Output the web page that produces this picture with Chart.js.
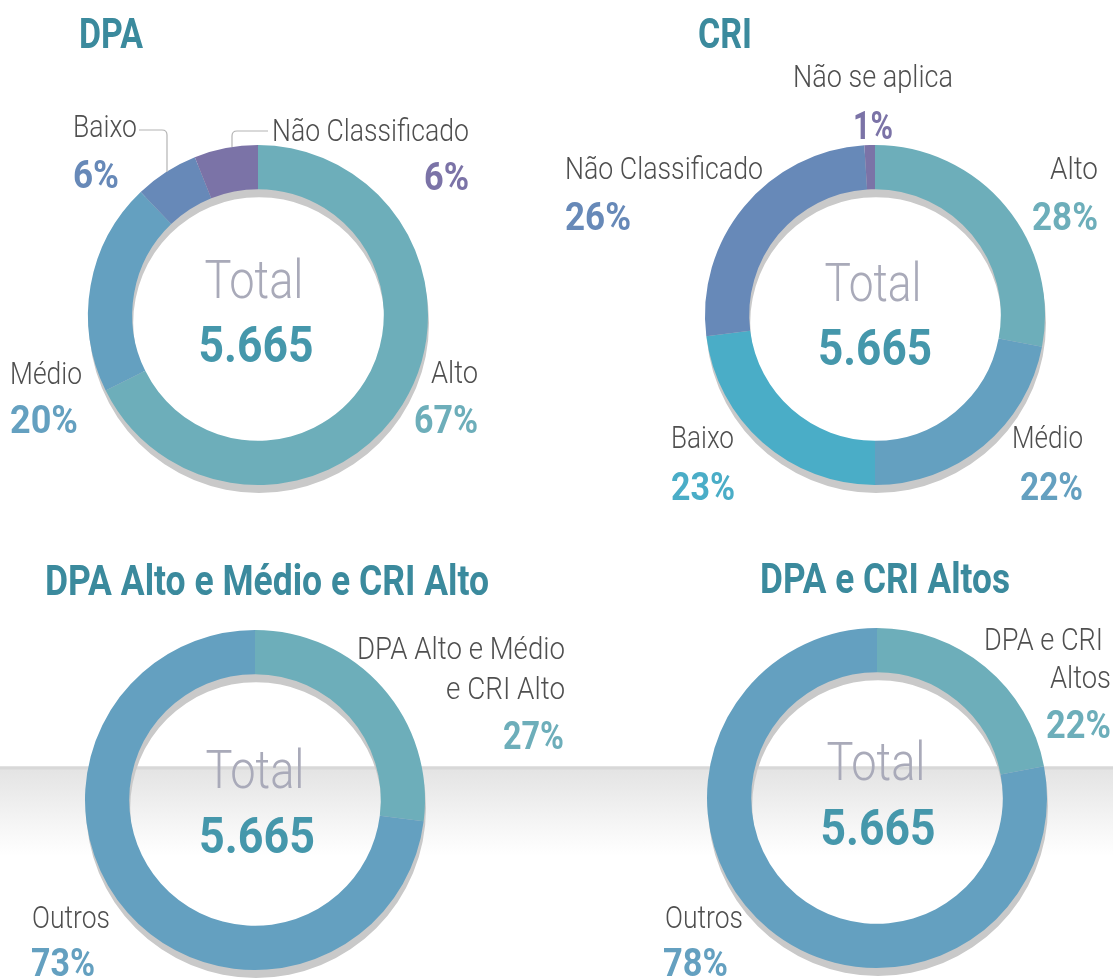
<!DOCTYPE html>
<html>
<head>
<meta charset="utf-8">
<script src="https://cdn.jsdelivr.net/npm/chart.js@4.4.1/dist/chart.umd.min.js"></script>
<style>
  html, body { margin:0; padding:0; background:#ffffff; }
  body { width:1113px; height:979px; position:relative; overflow:hidden; }
  #band { position:absolute; left:0; top:766px; width:1113px; height:92px;
    background: linear-gradient(to bottom, #ececec 0px, #d8d8d8 1px, #d8d8d8 3px, #e4e4e4 4px, #e9e9e9 20px, #f6f6f6 60px, #ffffff 90px); }
  canvas.donut { position:absolute; }
  #overlay { position:absolute; left:0; top:0; pointer-events:none; }
  .title { font-family:Roboto,"DejaVu Sans Condensed",sans-serif; font-weight:700; font-size:42px; fill:#3b8a9d; }
  .lab { font-family:Roboto,"DejaVu Sans Condensed",sans-serif; font-weight:300; font-size:31px; fill:#4f4f4f; }
  .pct { font-family:Roboto,"DejaVu Sans Condensed",sans-serif; font-weight:700; font-size:39px; }
  .tot { font-family:Roboto,"DejaVu Sans Condensed",sans-serif; font-weight:300; font-size:53px; fill:#a9aab9; }
  .num { font-family:Roboto,"DejaVu Sans Condensed",sans-serif; font-weight:700; font-size:50px; fill:#4597ab; }
</style>
</head>
<body>
<div id="band"></div>
<canvas id="c1" class="donut" width="360" height="360" style="left:78px;top:135px"></canvas>
<canvas id="c2" class="donut" width="360" height="360" style="left:695px;top:135px"></canvas>
<canvas id="c3" class="donut" width="360" height="360" style="left:75px;top:620px"></canvas>
<canvas id="c4" class="donut" width="360" height="360" style="left:697px;top:618px"></canvas>
<svg id="overlay" width="1113" height="979" xmlns="http://www.w3.org/2000/svg"></svg>
<script>
// ---- data ----
const dpaTitle = 'DPA';
const dpaLabels = ['Alto', 'Médio', 'Baixo', 'Não Classificado'];
const dpaValues = [67, 20, 6, 6];
const dpaColors = ['#6daeba', '#64a0c0', '#6789b8', '#7b73a7'];

const criTitle = 'CRI';
const criLabels = ['Alto', 'Médio', 'Baixo', 'Não Classificado', 'Não se aplica'];
const criValues = [28, 22, 23, 26, 1];
const criColors = ['#6daeba', '#64a0c0', '#4aadc7', '#6789b8', '#7b73a7'];

const combo1Title = 'DPA Alto e Médio e CRI Alto';
const combo1Labels = ['DPA Alto e Médio e CRI Alto', 'Outros'];
const combo1Values = [27, 73];

const combo2Title = 'DPA e CRI Altos';
const combo2Labels = ['DPA e CRI Altos', 'Outros'];
const combo2Values = [22, 78];
const comboColors = ['#6daeba', '#64a0c0'];

const totalLabel = 'Total';
const totalValue = '5.665';

// ---- charts ----
const shadowPlugin = {
  id: 'ringShadow',
  beforeDatasetsDraw(chart) {
    const arc = chart.getDatasetMeta(0).data[0];
    if (!arc) return;
    const { x, y, outerRadius, innerRadius } = arc.getProps(['x','y','outerRadius','innerRadius'], true);
    const ctx = chart.ctx;
    const dx = 1, dy = 8;
    ctx.save();
    ctx.fillStyle = '#c9c9c9';
    ctx.beginPath();
    ctx.arc(x + dx, y + dy, outerRadius, 0, Math.PI * 2, false);
    ctx.moveTo(x + dx + innerRadius, y + dy);
    ctx.arc(x + dx, y + dy, innerRadius, 0, Math.PI * 2, true);
    ctx.fill();
    ctx.restore();
  }
};

function makeDonut(id, labels, values, colors) {
  return new Chart(document.getElementById(id), {
    type: 'doughnut',
    data: { labels, datasets: [{ data: values, backgroundColor: colors, borderWidth: 0, hoverOffset: 0 }] },
    options: {
      responsive: false, animation: false, events: [],
      cutout: '74%',
      layout: { padding: 10 },
      plugins: { legend: { display: false }, tooltip: { enabled: false } }
    },
    plugins: [shadowPlugin]
  });
}
makeDonut('c1', dpaLabels, dpaValues, dpaColors);
makeDonut('c2', criLabels, criValues, criColors);
makeDonut('c3', combo1Labels, combo1Values, comboColors);
makeDonut('c4', combo2Labels, combo2Values, comboColors);

// ---- text overlay ----
const svg = document.getElementById('overlay');
const NS = 'http://www.w3.org/2000/svg';
function txt(str, x, y, cls, anchor, w, color) {
  const t = document.createElementNS(NS, 'text');
  t.setAttribute('x', x); t.setAttribute('y', y);
  t.setAttribute('class', cls);
  t.setAttribute('text-anchor', anchor || 'start');
  if (w) { t.setAttribute('textLength', w); t.setAttribute('lengthAdjust', 'spacingAndGlyphs'); }
  if (color) t.setAttribute('fill', color);
  t.textContent = str;
  svg.appendChild(t);
}
function path(d) {
  const p = document.createElementNS(NS, 'path');
  p.setAttribute('d', d); p.setAttribute('fill', 'none');
  p.setAttribute('stroke', '#b4b4b4'); p.setAttribute('stroke-width', '1.2');
  svg.appendChild(p);
}
const pct = v => v + '%';

// titles
txt(dpaTitle, 79, 48, 'title', 'start', 64);
txt(criTitle, 698, 48, 'title', 'start', 54);
txt(combo1Title, 45, 595, 'title', 'start', 444);
txt(combo2Title, 760, 593, 'title', 'start', 250);

// center totals
txt(totalLabel, 254, 298, 'tot', 'middle', 99); txt(totalValue, 256, 362, 'num', 'middle', 115);
txt(totalLabel, 873, 301, 'tot', 'middle', 97); txt(totalValue, 875, 365, 'num', 'middle', 114);
txt(totalLabel, 255, 788, 'tot', 'middle', 99); txt(totalValue, 257, 853, 'num', 'middle', 116);
txt(totalLabel, 876, 780, 'tot', 'middle', 99); txt(totalValue, 878, 845, 'num', 'middle', 115);

// DPA labels
txt(dpaLabels[2], 73, 137, 'lab', 'start', 64);   txt(pct(dpaValues[2]), 73, 188, 'pct', 'start', 46, dpaColors[2]);
txt(dpaLabels[3], 272, 141, 'lab', 'start', 197); txt(pct(dpaValues[3]), 469, 190, 'pct', 'end', 45, dpaColors[3]);
txt(dpaLabels[1], 10, 384, 'lab', 'start', 72);   txt(pct(dpaValues[1]), 10, 433, 'pct', 'start', 68, dpaColors[1]);
txt(dpaLabels[0], 478, 383, 'lab', 'end', 47);    txt(pct(dpaValues[0]), 478, 433, 'pct', 'end', 64, dpaColors[0]);
path('M 139 130 H 162 Q 167 130 167 135 V 172');
path('M 268 131 H 237 Q 232 131 232 136 V 147');

// CRI labels
txt(criLabels[4], 873, 87, 'lab', 'middle', 160);  txt(pct(criValues[4]), 873, 139, 'pct', 'middle', 40, criColors[4]);
txt(criLabels[3], 565, 179, 'lab', 'start', 198);  txt(pct(criValues[3]), 565, 230, 'pct', 'start', 66, criColors[3]);
txt(criLabels[0], 1098, 179, 'lab', 'end', 48);    txt(pct(criValues[0]), 1098, 230, 'pct', 'end', 66, criColors[0]);
txt(criLabels[2], 671, 448, 'lab', 'start', 63);   txt(pct(criValues[2]), 671, 500, 'pct', 'start', 64, criColors[2]);
txt(criLabels[1], 1083, 448, 'lab', 'end', 71);    txt(pct(criValues[1]), 1083, 500, 'pct', 'end', 63, criColors[1]);

// combo 1 labels
txt('DPA Alto e Médio', 565, 659, 'lab', 'end', 208);
txt('e CRI Alto', 565, 699, 'lab', 'end', 119);
txt(pct(combo1Values[0]), 564, 749, 'pct', 'end', 61, comboColors[0]);
txt(combo1Labels[1], 32, 928, 'lab', 'start', 78);
txt(pct(combo1Values[1]), 31, 976, 'pct', 'start', 64, comboColors[1]);

// combo 2 labels
txt('DPA e CRI', 1103, 650, 'lab', 'end', 119);
txt('Altos', 1111, 688, 'lab', 'end', 61);
txt(pct(combo2Values[0]), 1111, 738, 'pct', 'end', 65, comboColors[0]);
txt(combo2Labels[1], 665, 928, 'lab', 'start', 78);
txt(pct(combo2Values[1]), 663, 976, 'pct', 'start', 65, comboColors[1]);
</script>
</body>
</html>
